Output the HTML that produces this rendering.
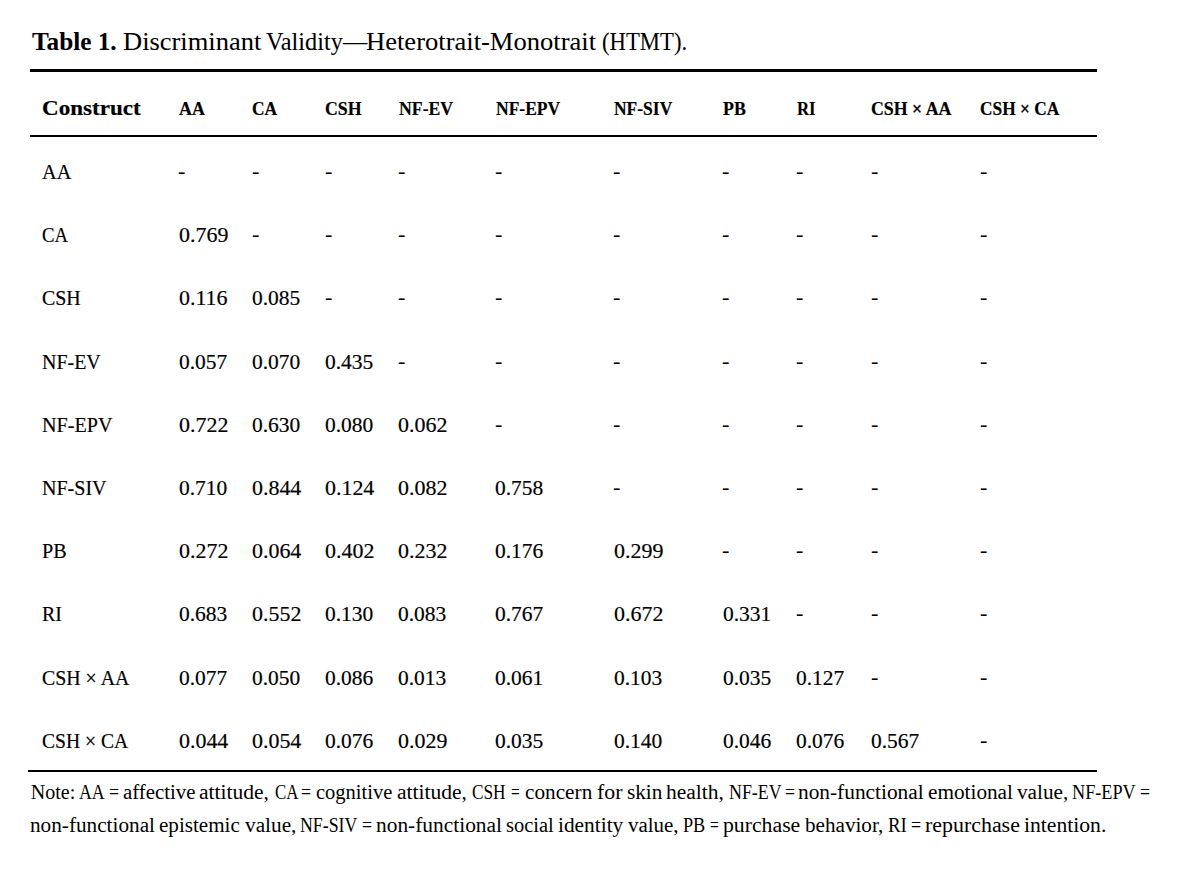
<!DOCTYPE html>
<html lang="en"><head><meta charset="utf-8"><title>Table 1. Discriminant Validity—Heterotrait-Monotrait (HTMT)</title><style>
html,body{margin:0;padding:0;background:#fff}
body{position:relative;width:1183px;height:876px;overflow:hidden;font-family:"Liberation Serif", "DejaVu Serif", serif;color:#000}
.a{position:absolute;white-space:nowrap;line-height:1;transform-origin:0 0}
.rule{position:absolute;background:#000}
.note{margin:0}
.ti{font-size:24.3px;font-weight:400}
.tib{font-size:24.3px;font-weight:700}
.hd0{font-size:21.2px;font-weight:700}
.hd{font-size:19.2px;font-weight:700}
.c0{font-size:21px;font-weight:400}
.num{font-size:21px;font-weight:400}
.dash{font-size:21px;font-weight:400}
.nt{font-size:20px;font-weight:400}
.a{-webkit-text-stroke:0.18px #000}
.nt{-webkit-text-stroke:0px #000}
.ti,.tib{-webkit-text-stroke:0.06px #000}
.dash{-webkit-text-stroke:0px #000}
table,thead,tbody,tr,th,td{border:0;padding:0;margin:0;border-collapse:collapse;border-spacing:0;font:inherit}
</style></head><body>
<div class="caption"><div class="a tib" style="left:31.50px;top:30px;transform:scaleX(1.0391)">Table 1. </div><div class="a ti" style="left:122.59px;top:30px;transform:scaleX(1.0902)">Discriminant </div><div class="a ti" style="left:265.97px;top:30px">Validity—</div><div class="a ti" style="left:366.07px;top:30px;transform:scaleX(1.0931)">Heterotrait-Monotrait </div><div class="a ti" style="left:601.70px;top:30px;transform:scaleX(0.9344)">(HTMT).</div></div>
<div class="rule" style="left:30px;top:69px;width:1067px;height:3px"></div>
<div class="rule" style="left:30px;top:135px;width:1067px;height:2px"></div>
<table>
<thead><tr><th><div class="a hd0" style="left:41.91px;top:98px;transform:scaleX(1.0888)">Construct</div></th><th><div class="a hd" style="left:179.30px;top:99px;transform:scaleX(0.9321)">AA</div></th><th><div class="a hd" style="left:251.69px;top:99px;transform:scaleX(0.9074)">CA</div></th><th><div class="a hd" style="left:324.67px;top:99px;transform:scaleX(0.9263)">CSH</div></th><th><div class="a hd" style="left:398.50px;top:99px;transform:scaleX(0.9241)">NF-EV</div></th><th><div class="a hd" style="left:495.50px;top:99px;transform:scaleX(0.9129)">NF-EPV</div></th><th><div class="a hd" style="left:614.40px;top:99px;transform:scaleX(0.9109)">NF-SIV</div></th><th><div class="a hd" style="left:723.40px;top:99px;transform:scaleX(0.9292)">PB</div></th><th><div class="a hd" style="left:796.70px;top:99px;transform:scaleX(0.8714)">RI</div></th><th><div class="a hd" style="left:870.87px;top:99px;transform:scaleX(0.9291)">CSH × AA</div></th><th><div class="a hd" style="left:980.20px;top:99px;transform:scaleX(0.9034)">CSH × CA</div></th></tr></thead>
<tbody>
<tr><th><div class="a c0" style="left:41.93px;top:162px;transform:scaleX(0.9655)">AA</div></th><td><div class="a dash" style="left:178.34px;top:161px;transform:scaleX(1.0600)">-</div></td><td><div class="a dash" style="left:251.64px;top:161px;transform:scaleX(1.0600)">-</div></td><td><div class="a dash" style="left:324.64px;top:161px;transform:scaleX(1.0600)">-</div></td><td><div class="a dash" style="left:397.54px;top:161px;transform:scaleX(1.0600)">-</div></td><td><div class="a dash" style="left:494.54px;top:161px;transform:scaleX(1.0600)">-</div></td><td><div class="a dash" style="left:613.44px;top:161px;transform:scaleX(1.0600)">-</div></td><td><div class="a dash" style="left:722.44px;top:161px;transform:scaleX(1.0600)">-</div></td><td><div class="a dash" style="left:795.74px;top:161px;transform:scaleX(1.0600)">-</div></td><td><div class="a dash" style="left:870.84px;top:161px;transform:scaleX(1.0600)">-</div></td><td><div class="a dash" style="left:980.14px;top:161px;transform:scaleX(1.0600)">-</div></td></tr>
<tr><th><div class="a c0" style="left:42.01px;top:225px;transform:scaleX(0.8929)">CA</div></th><td><div class="a num" style="left:178.56px;top:225px;transform:scaleX(1.0444)">0.769</div></td><td><div class="a dash" style="left:251.64px;top:224px;transform:scaleX(1.0600)">-</div></td><td><div class="a dash" style="left:324.64px;top:224px;transform:scaleX(1.0600)">-</div></td><td><div class="a dash" style="left:397.54px;top:224px;transform:scaleX(1.0600)">-</div></td><td><div class="a dash" style="left:494.54px;top:224px;transform:scaleX(1.0600)">-</div></td><td><div class="a dash" style="left:613.44px;top:224px;transform:scaleX(1.0600)">-</div></td><td><div class="a dash" style="left:722.44px;top:224px;transform:scaleX(1.0600)">-</div></td><td><div class="a dash" style="left:795.74px;top:224px;transform:scaleX(1.0600)">-</div></td><td><div class="a dash" style="left:870.84px;top:224px;transform:scaleX(1.0600)">-</div></td><td><div class="a dash" style="left:980.14px;top:224px;transform:scaleX(1.0600)">-</div></td></tr>
<tr><th><div class="a c0" style="left:41.95px;top:288px;transform:scaleX(0.9487)">CSH</div></th><td><div class="a num" style="left:178.56px;top:288px;transform:scaleX(1.0444)">0.116</div></td><td><div class="a num" style="left:251.88px;top:288px;transform:scaleX(1.0217)">0.085</div></td><td><div class="a dash" style="left:324.64px;top:287px;transform:scaleX(1.0600)">-</div></td><td><div class="a dash" style="left:397.54px;top:287px;transform:scaleX(1.0600)">-</div></td><td><div class="a dash" style="left:494.54px;top:287px;transform:scaleX(1.0600)">-</div></td><td><div class="a dash" style="left:613.44px;top:287px;transform:scaleX(1.0600)">-</div></td><td><div class="a dash" style="left:722.44px;top:287px;transform:scaleX(1.0600)">-</div></td><td><div class="a dash" style="left:795.74px;top:287px;transform:scaleX(1.0600)">-</div></td><td><div class="a dash" style="left:870.84px;top:287px;transform:scaleX(1.0600)">-</div></td><td><div class="a dash" style="left:980.14px;top:287px;transform:scaleX(1.0600)">-</div></td></tr>
<tr><th><div class="a c0" style="left:41.95px;top:352px;transform:scaleX(0.9500)">NF-EV</div></th><td><div class="a num" style="left:178.58px;top:352px;transform:scaleX(1.0217)">0.057</div></td><td><div class="a num" style="left:251.88px;top:352px;transform:scaleX(1.0217)">0.070</div></td><td><div class="a num" style="left:324.88px;top:352px;transform:scaleX(1.0217)">0.435</div></td><td><div class="a dash" style="left:397.54px;top:351px;transform:scaleX(1.0600)">-</div></td><td><div class="a dash" style="left:494.54px;top:351px;transform:scaleX(1.0600)">-</div></td><td><div class="a dash" style="left:613.44px;top:351px;transform:scaleX(1.0600)">-</div></td><td><div class="a dash" style="left:722.44px;top:351px;transform:scaleX(1.0600)">-</div></td><td><div class="a dash" style="left:795.74px;top:351px;transform:scaleX(1.0600)">-</div></td><td><div class="a dash" style="left:870.84px;top:351px;transform:scaleX(1.0600)">-</div></td><td><div class="a dash" style="left:980.14px;top:351px;transform:scaleX(1.0600)">-</div></td></tr>
<tr><th><div class="a c0" style="left:41.94px;top:415px;transform:scaleX(0.9583)">NF-EPV</div></th><td><div class="a num" style="left:178.56px;top:415px;transform:scaleX(1.0444)">0.722</div></td><td><div class="a num" style="left:251.88px;top:415px;transform:scaleX(1.0217)">0.630</div></td><td><div class="a num" style="left:324.88px;top:415px;transform:scaleX(1.0217)">0.080</div></td><td><div class="a num" style="left:397.76px;top:415px;transform:scaleX(1.0444)">0.062</div></td><td><div class="a dash" style="left:494.54px;top:414px;transform:scaleX(1.0600)">-</div></td><td><div class="a dash" style="left:613.44px;top:414px;transform:scaleX(1.0600)">-</div></td><td><div class="a dash" style="left:722.44px;top:414px;transform:scaleX(1.0600)">-</div></td><td><div class="a dash" style="left:795.74px;top:414px;transform:scaleX(1.0600)">-</div></td><td><div class="a dash" style="left:870.84px;top:414px;transform:scaleX(1.0600)">-</div></td><td><div class="a dash" style="left:980.14px;top:414px;transform:scaleX(1.0600)">-</div></td></tr>
<tr><th><div class="a c0" style="left:41.95px;top:478px;transform:scaleX(0.9545)">NF-SIV</div></th><td><div class="a num" style="left:178.58px;top:478px;transform:scaleX(1.0217)">0.710</div></td><td><div class="a num" style="left:251.86px;top:478px;transform:scaleX(1.0435)">0.844</div></td><td><div class="a num" style="left:324.86px;top:478px;transform:scaleX(1.0435)">0.124</div></td><td><div class="a num" style="left:397.76px;top:478px;transform:scaleX(1.0444)">0.082</div></td><td><div class="a num" style="left:494.78px;top:478px;transform:scaleX(1.0217)">0.758</div></td><td><div class="a dash" style="left:613.44px;top:477px;transform:scaleX(1.0600)">-</div></td><td><div class="a dash" style="left:722.44px;top:477px;transform:scaleX(1.0600)">-</div></td><td><div class="a dash" style="left:795.74px;top:477px;transform:scaleX(1.0600)">-</div></td><td><div class="a dash" style="left:870.84px;top:477px;transform:scaleX(1.0600)">-</div></td><td><div class="a dash" style="left:980.14px;top:477px;transform:scaleX(1.0600)">-</div></td></tr>
<tr><th><div class="a c0" style="left:41.94px;top:541px;transform:scaleX(0.9583)">PB</div></th><td><div class="a num" style="left:178.56px;top:541px;transform:scaleX(1.0444)">0.272</div></td><td><div class="a num" style="left:251.86px;top:541px;transform:scaleX(1.0435)">0.064</div></td><td><div class="a num" style="left:324.86px;top:541px;transform:scaleX(1.0444)">0.402</div></td><td><div class="a num" style="left:397.76px;top:541px;transform:scaleX(1.0444)">0.232</div></td><td><div class="a num" style="left:494.78px;top:541px;transform:scaleX(1.0217)">0.176</div></td><td><div class="a num" style="left:613.66px;top:541px;transform:scaleX(1.0444)">0.299</div></td><td><div class="a dash" style="left:722.44px;top:540px;transform:scaleX(1.0600)">-</div></td><td><div class="a dash" style="left:795.74px;top:540px;transform:scaleX(1.0600)">-</div></td><td><div class="a dash" style="left:870.84px;top:540px;transform:scaleX(1.0600)">-</div></td><td><div class="a dash" style="left:980.14px;top:540px;transform:scaleX(1.0600)">-</div></td></tr>
<tr><th><div class="a c0" style="left:41.95px;top:604px;transform:scaleX(0.9474)">RI</div></th><td><div class="a num" style="left:178.58px;top:604px;transform:scaleX(1.0217)">0.683</div></td><td><div class="a num" style="left:251.86px;top:604px;transform:scaleX(1.0444)">0.552</div></td><td><div class="a num" style="left:324.88px;top:604px;transform:scaleX(1.0217)">0.130</div></td><td><div class="a num" style="left:397.78px;top:604px;transform:scaleX(1.0217)">0.083</div></td><td><div class="a num" style="left:494.78px;top:604px;transform:scaleX(1.0217)">0.767</div></td><td><div class="a num" style="left:613.66px;top:604px;transform:scaleX(1.0444)">0.672</div></td><td><div class="a num" style="left:722.68px;top:604px;transform:scaleX(1.0222)">0.331</div></td><td><div class="a dash" style="left:795.74px;top:603px;transform:scaleX(1.0600)">-</div></td><td><div class="a dash" style="left:870.84px;top:603px;transform:scaleX(1.0600)">-</div></td><td><div class="a dash" style="left:980.14px;top:603px;transform:scaleX(1.0600)">-</div></td></tr>
<tr><th><div class="a c0" style="left:41.95px;top:668px;transform:scaleX(0.9451)">CSH × AA</div></th><td><div class="a num" style="left:178.58px;top:668px;transform:scaleX(1.0217)">0.077</div></td><td><div class="a num" style="left:251.88px;top:668px;transform:scaleX(1.0217)">0.050</div></td><td><div class="a num" style="left:324.88px;top:668px;transform:scaleX(1.0217)">0.086</div></td><td><div class="a num" style="left:397.78px;top:668px;transform:scaleX(1.0217)">0.013</div></td><td><div class="a num" style="left:494.78px;top:668px;transform:scaleX(1.0222)">0.061</div></td><td><div class="a num" style="left:613.68px;top:668px;transform:scaleX(1.0217)">0.103</div></td><td><div class="a num" style="left:722.68px;top:668px;transform:scaleX(1.0217)">0.035</div></td><td><div class="a num" style="left:795.98px;top:668px;transform:scaleX(1.0217)">0.127</div></td><td><div class="a dash" style="left:870.84px;top:667px;transform:scaleX(1.0600)">-</div></td><td><div class="a dash" style="left:980.14px;top:667px;transform:scaleX(1.0600)">-</div></td></tr>
<tr><th><div class="a c0" style="left:41.97px;top:731px;transform:scaleX(0.9341)">CSH × CA</div></th><td><div class="a num" style="left:178.56px;top:731px;transform:scaleX(1.0435)">0.044</div></td><td><div class="a num" style="left:251.86px;top:731px;transform:scaleX(1.0435)">0.054</div></td><td><div class="a num" style="left:324.88px;top:731px;transform:scaleX(1.0217)">0.076</div></td><td><div class="a num" style="left:397.76px;top:731px;transform:scaleX(1.0444)">0.029</div></td><td><div class="a num" style="left:494.78px;top:731px;transform:scaleX(1.0217)">0.035</div></td><td><div class="a num" style="left:613.68px;top:731px;transform:scaleX(1.0217)">0.140</div></td><td><div class="a num" style="left:722.68px;top:731px;transform:scaleX(1.0217)">0.046</div></td><td><div class="a num" style="left:795.98px;top:731px;transform:scaleX(1.0217)">0.076</div></td><td><div class="a num" style="left:871.08px;top:731px;transform:scaleX(1.0217)">0.567</div></td><td><div class="a dash" style="left:980.14px;top:730px;transform:scaleX(1.0600)">-</div></td></tr>
</tbody>
</table>
<div class="rule" style="left:28px;top:770px;width:1069px;height:2px"></div>
<div class="note"><div class="a nt" style="left:30.80px;top:782px">Note: </div><div class="a nt" style="left:78.82px;top:782px;transform:scaleX(0.8913)">AA </div><div class="a nt" style="left:108.77px;top:782px;transform:scaleX(0.8873)">= </div><div class="a nt" style="left:122.59px;top:782px;transform:scaleX(1.0423)">affective </div><div class="a nt" style="left:199.42px;top:782px;transform:scaleX(1.0774)">attitude, </div><div class="a nt" style="left:274.52px;top:782px;transform:scaleX(0.8446)">CA </div><div class="a nt" style="left:301.43px;top:782px;transform:scaleX(0.8873)">= </div><div class="a nt" style="left:316.26px;top:782px;transform:scaleX(1.0256)">cognitive </div><div class="a nt" style="left:397.07px;top:782px;transform:scaleX(1.0774)">attitude, </div><div class="a nt" style="left:472.15px;top:782px;transform:scaleX(0.8633)">CSH </div><div class="a nt" style="left:511.16px;top:782px;transform:scaleX(0.7764)">= </div><div class="a nt" style="left:524.85px;top:782px;transform:scaleX(1.0626)">concern </div><div class="a nt" style="left:596.70px;top:782px;transform:scaleX(1.0890)">for </div><div class="a nt" style="left:626.67px;top:782px;transform:scaleX(1.0606)">skin </div><div class="a nt" style="left:665.59px;top:782px;transform:scaleX(1.0750)">health, </div><div class="a nt" style="left:728.66px;top:782px;transform:scaleX(0.8931)">NF-EV </div><div class="a nt" style="left:784.56px;top:782px;transform:scaleX(0.8873)">= </div><div class="a nt" style="left:798.36px;top:782px;transform:scaleX(1.0671)">non-functional </div><div class="a nt" style="left:928.13px;top:782px;transform:scaleX(1.0622)">emotional </div><div class="a nt" style="left:1017.04px;top:782px;transform:scaleX(1.0619)">value, </div><div class="a nt" style="left:1072.03px;top:782px;transform:scaleX(0.9101)">NF-EPV </div><div class="a nt" style="left:1139.93px;top:782px;transform:scaleX(0.8873)">= </div><div class="a nt" style="left:30.24px;top:815px;transform:scaleX(1.0613)">non-functional </div><div class="a nt" style="left:159.37px;top:815px;transform:scaleX(1.0543)">epistemic </div><div class="a nt" style="left:244.50px;top:815px;transform:scaleX(1.0648)">value, </div><div class="a nt" style="left:299.66px;top:815px;transform:scaleX(0.8897)">NF-SIV </div><div class="a nt" style="left:361.72px;top:815px;transform:scaleX(0.8897)">= </div><div class="a nt" style="left:375.55px;top:815px;transform:scaleX(1.0700)">non-functional </div><div class="a nt" style="left:505.72px;top:815px;transform:scaleX(1.0232)">social </div><div class="a nt" style="left:557.72px;top:815px;transform:scaleX(1.0677)">identity </div><div class="a nt" style="left:627.86px;top:815px;transform:scaleX(1.0435)">value, </div><div class="a nt" style="left:683.00px;top:815px;transform:scaleX(0.9099)">PB </div><div class="a nt" style="left:710.15px;top:815px;transform:scaleX(0.7785)">= </div><div class="a nt" style="left:722.86px;top:815px;transform:scaleX(1.0867)">purchase </div><div class="a nt" style="left:804.96px;top:815px;transform:scaleX(1.0565)">behavior, </div><div class="a nt" style="left:888.15px;top:815px;transform:scaleX(0.9453)">RI </div><div class="a nt" style="left:911.23px;top:815px;transform:scaleX(0.8897)">= </div><div class="a nt" style="left:925.04px;top:815px;transform:scaleX(1.0951)">repurchase </div><div class="a nt" style="left:1024.14px;top:815px;transform:scaleX(1.0821)">intention.</div></div>
</body></html>
